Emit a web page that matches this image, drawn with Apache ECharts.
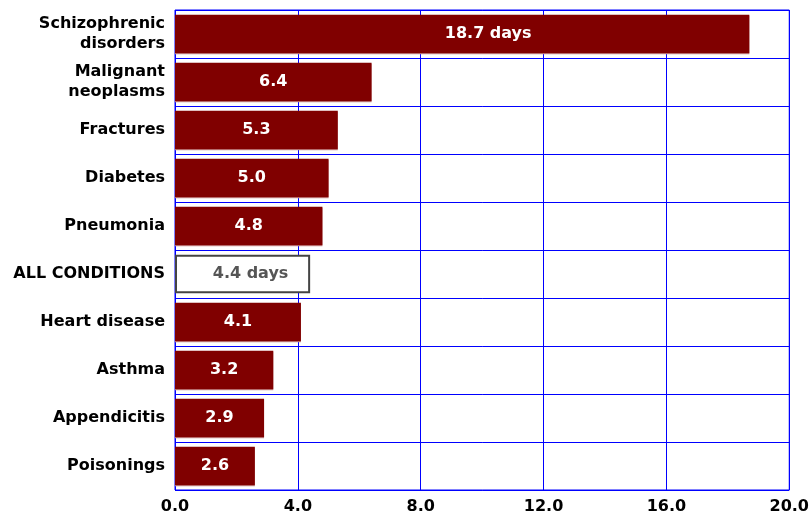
<!DOCTYPE html>
<html>
<head>
<meta charset="utf-8">
<script src="https://cdn.jsdelivr.net/npm/echarts@6/dist/echarts.min.js"></script>
<style>
  html, body { margin: 0; padding: 0; background: #fff; }
  #chart { width: 812px; height: 519px; }
</style>
</head>
<body>
<div id="chart"></div>
<script>
// categories top to bottom
const categories = ['Schizophrenic\ndisorders', 'Malignant\nneoplasms', 'Fractures', 'Diabetes', 'Pneumonia',
    'ALL CONDITIONS', 'Heart disease', 'Asthma', 'Appendicitis', 'Poisonings'];
const stayDays = [18.7, 6.4, 5.3, 5.0, 4.8, 4.4, 4.1, 3.2, 2.9, 2.6];
const valueLabels = ['18.7 days', '6.4', '5.3', '5.0', '4.8', '4.4 days', '4.1', '3.2', '2.9', '2.6'];
const xTicks = [0, 4, 8, 12, 16, 20];

const totalIdx = categories.indexOf('ALL CONDITIONS');
const font = 'DejaVu Sans, Verdana, sans-serif';

const chart = echarts.init(document.getElementById('chart'));

const barData = stayDays.map((v, i) => {
    if (i === totalIdx) {
        return {
            value: v,
            itemStyle: { color: '#fff', borderColor: '#444', borderWidth: 2, shadowColor: 'transparent' },
            label: { color: '#555', offset: [8, 0] },
        };
    }
    if (i === 0) {
        // number sits in the middle, "days" hangs off to the right
        return { value: v, label: { offset: [26, 0] } };
    }
    return v;
});

chart.setOption({
    animation: false,
    grid: { left: 175, right: 20, top: 10, bottom: 29, show: true, borderColor: '#0000ff', borderWidth: 1 },
    xAxis: {
        type: 'value',
        min: xTicks[0],
        max: xTicks[xTicks.length - 1],
        interval: 4,
        axisLine: { show: false },
        axisTick: { show: false },
        splitLine: { show: true, lineStyle: { color: '#0000ff', width: 1 } },
        axisLabel: {
            formatter: (v) => v.toFixed(1),
            fontFamily: font,
            fontWeight: 'bold',
            fontSize: 16,
            color: '#000',
            margin: 9,
        },
    },
    yAxis: {
        type: 'category',
        inverse: true,
        data: categories,
        axisLine: { show: false },
        axisTick: { show: false },
        splitLine: { show: true, lineStyle: { color: '#0000ff', width: 1 } },
        axisLabel: {
            fontFamily: font,
            fontWeight: 'bold',
            fontSize: 16,
            color: '#000',
            margin: 10,
            lineHeight: 20,
        },
    },
    series: [{
        type: 'bar',
        data: barData,
        barCategoryGap: '20%',
        itemStyle: { color: '#800000', shadowColor: '#c89090', shadowOffsetY: 1, shadowBlur: 0 },
        label: {
            show: true,
            position: 'inside',
            formatter: (p) => valueLabels[p.dataIndex],
            fontFamily: font,
            fontWeight: 'bold',
            fontSize: 16,
            color: '#fff',
        },
    }],
});
</script>
</body>
</html>
